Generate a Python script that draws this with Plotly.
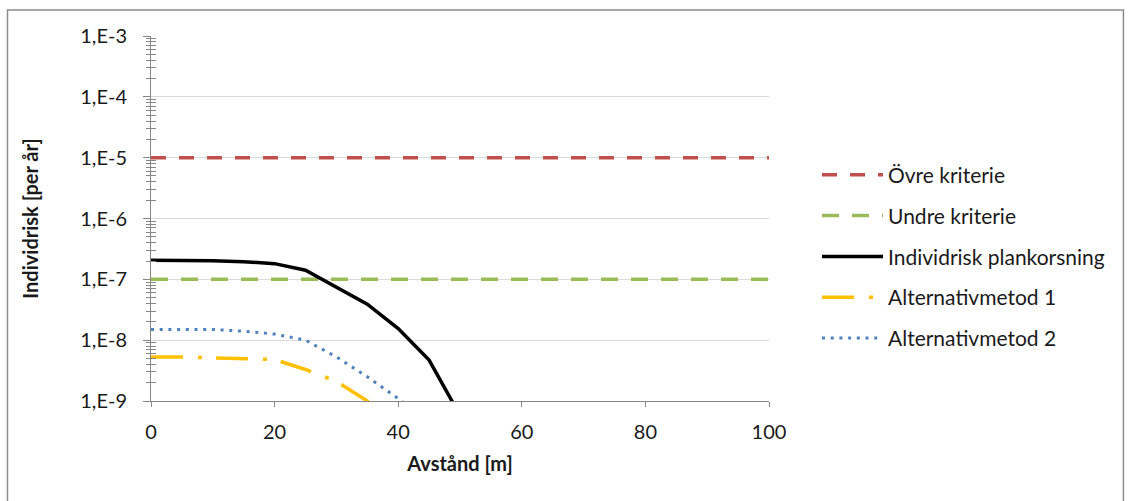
import plotly.graph_objects as go

# ---- data ----
distance = [0, 5, 10, 15, 20, 25, 30, 35, 40, 45, 50]
ovre_x = [0, 100]
ovre_y = [1e-5, 1e-5]
undre_x = [0, 100]
undre_y = [1e-7, 1e-7]
individrisk = [2.05e-7, 2.05e-7, 2.03e-7, 1.95e-7, 1.81e-7, 1.41e-7, 7.5e-8, 3.9e-8, 1.55e-8, 4.7e-9, 5.8e-10]
alt1 = [5.3e-9, 5.3e-9, 5.1e-9, 5.0e-9, 4.8e-9, 3.3e-9, 2.1e-9, 1.0e-9, 4.5e-10, 2.0e-10, 9e-11]
alt2 = [1.5e-8, 1.5e-8, 1.5e-8, 1.4e-8, 1.26e-8, 1.0e-8, 5.3e-9, 2.5e-9, 1.1e-9, 4.5e-10, 1.5e-10]

ytick_vals = [1e-9, 1e-8, 1e-7, 1e-6, 1e-5, 1e-4, 1e-3]
ytick_text = ["1,E-9", "1,E-8", "1,E-7", "1,E-6", "1,E-5", "1,E-4", "1,E-3"]
xtick_vals = [0, 20, 40, 60, 80, 100]

FONT = "Lato"
TXT = "#1a1a1a"
AXC = "#868686"
minor_vals = [m * 10 ** e for e in range(-9, -3) for m in range(2, 10)]

fig = go.Figure()
fig.add_trace(go.Scatter(x=ovre_x, y=ovre_y, mode="lines", name="Övre kriterie",
                         line=dict(color="#C0504D", width=3.5, dash="15px,13px"),
                         legendgroup="a", yaxis="y2"))
fig.add_trace(go.Scatter(x=undre_x, y=undre_y, mode="lines", name="Undre kriterie",
                         line=dict(color="#9BBB59", width=3.5, dash="17px,13px"),
                         legendgroup="b"))
fig.add_trace(go.Scatter(x=distance, y=individrisk, mode="lines", name="Individrisk plankorsning",
                         line=dict(color="black", width=3.5), legendgroup="c"))
fig.add_trace(go.Scatter(x=distance, y=alt1, mode="lines", name="Alternativmetod 1",
                         line=dict(color="#FFC000", width=3.5, dash="32px,15px,4px,14px"),
                         legendgroup="d"))
fig.add_trace(go.Scatter(x=distance, y=alt2, mode="lines", name="Alternativmetod 2",
                         line=dict(color="#4F81BD", width=3, dash="3px,5.7px"),
                         legendgroup="e"))

fig.update_layout(
    width=1130, height=501,
    margin=dict(l=151, r=361, t=36, b=100),
    paper_bgcolor="white", plot_bgcolor="white",
    font=dict(family=FONT, size=20, color=TXT),
    showlegend=True,
    legend=dict(x=1.0777, y=0.675, xanchor="left", yanchor="top",
                traceorder="grouped", tracegroupgap=10.5, itemwidth=61,
                font=dict(family=FONT, size=21, color=TXT),
                bgcolor="rgba(0,0,0,0)"),
    xaxis=dict(range=[0, 100], tickvals=xtick_vals, showgrid=False,
               showline=True, linecolor=AXC, linewidth=1,
               ticks="outside", ticklen=5, tickcolor=AXC, ticklabelstandoff=8,
               tickfont=dict(family=FONT, size=20, color=TXT),
               title=dict(text="<b>Avstånd [m]</b>", font=dict(family=FONT, size=20, color=TXT), standoff=14),
               zeroline=False),
    yaxis=dict(type="log", range=[-9, -3], tickvals=ytick_vals, ticktext=ytick_text,
               showgrid=True, gridcolor="#D9D9D9", gridwidth=1,
               showline=True, linecolor=AXC, linewidth=1,
               ticks="outside", ticklen=7, tickcolor=AXC, ticklabelstandoff=12,
               minor=dict(tickvals=minor_vals, ticks="outside", ticklen=4, tickcolor=AXC, showgrid=False),
               tickfont=dict(family=FONT, size=20, color=TXT),
               title=dict(text="<b>Individrisk [per år]</b>", font=dict(family=FONT, size=20, color=TXT), standoff=36),
               zeroline=False),
    yaxis2=dict(type="log", range=[-9, -3], overlaying="y", side="left", anchor="x",
                tickvals=ytick_vals, showticklabels=False, showgrid=False, showline=False,
                ticks="", minor=dict(tickvals=minor_vals, ticks="inside", ticklen=5, tickcolor=AXC, showgrid=False),
                zeroline=False),
)

fig.add_shape(type="rect", xref="paper", yref="paper",
              x0=-0.2322, x1=1.5735, y0=1.071, y1=-0.4,
              line=dict(color="#8C8C8C", width=1.5), fillcolor="rgba(0,0,0,0)", layer="below")

fig.write_html("out.html", config={"displayModeBar": False},
               post_script="document.body.style.margin='0';")
